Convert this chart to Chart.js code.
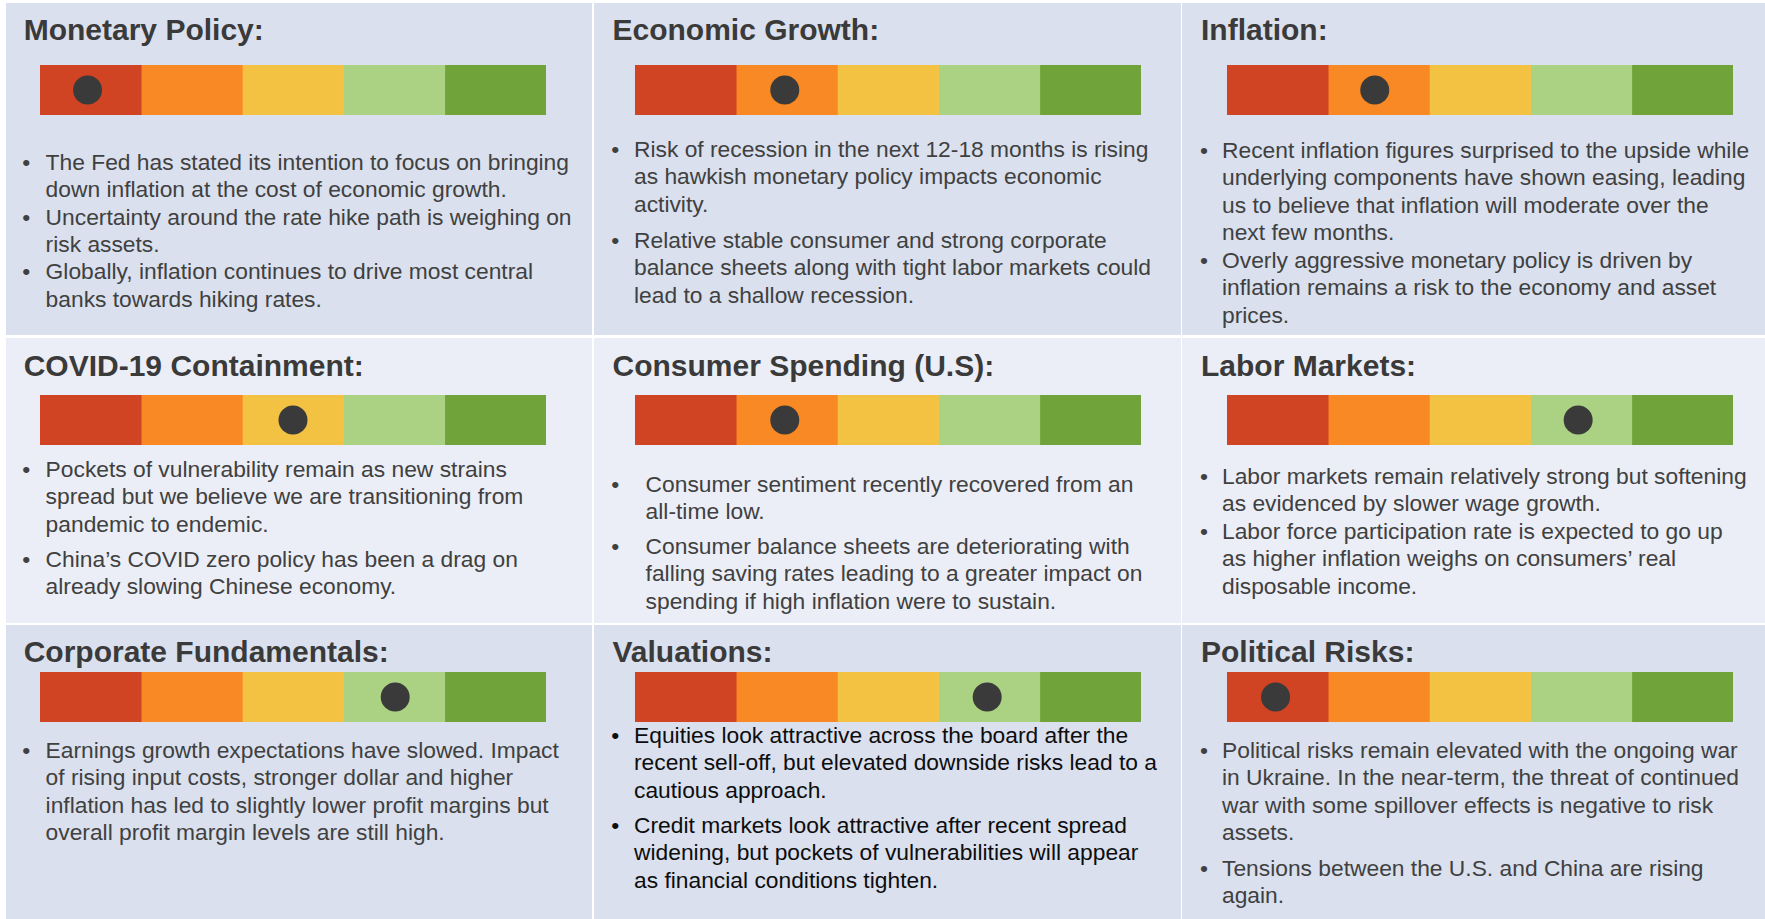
<!DOCTYPE html>
<html>
<head>
<meta charset="utf-8">
<script src="https://cdn.jsdelivr.net/npm/chart.js@4.4.0/dist/chart.umd.min.js"></script>
<style>
  html, body { margin: 0; padding: 0; background: #ffffff; }
  body { width: 1765px; height: 919px; position: relative; overflow: hidden;
         font-family: "Liberation Sans", Arial, sans-serif; }
  .panel { position: absolute; }
  .title { position: absolute; font-weight: bold; font-size: 30px; line-height: 30px;
           color: #3a3a3a; white-space: nowrap; }
  .bullet { position: absolute; font-size: 22.8px; line-height: 27.3px; color: #404040;
            white-space: nowrap; }
  .bullet .dot { position: absolute; top: 0; }
  canvas { position: absolute; }
</style>
</head>
<body>
<script>
// ---- data ----
const panelTitles = [
  'Monetary Policy:', 'Economic Growth:', 'Inflation:',
  'COVID-19 Containment:', 'Consumer Spending (U.S):', 'Labor Markets:',
  'Corporate Fundamentals:', 'Valuations:', 'Political Risks:'
];

// position of the dot on a 0..5 scale (one unit per colour band)
const ratings = [0.47, 1.48, 1.46, 2.50, 1.48, 3.47, 3.51, 3.48, 0.48];

const bandNames = ['Very negative', 'Negative', 'Neutral', 'Positive', 'Very positive'];
const bandColors = ['#d04424', '#f88925', '#f3c243', '#abd283', '#70a43a'];
const dotColor = '#3a3a3a';

const panelBullets = [
  [
    ['The Fed has stated its intention to focus on bringing', 'down inflation at the cost of economic growth.'],
    ['Uncertainty around the rate hike path is weighing on', 'risk assets.'],
    ['Globally, inflation continues to drive most central', 'banks towards hiking rates.']
  ],
  [
    ['Risk of recession in the next 12-18 months is rising', 'as hawkish monetary policy impacts economic', 'activity.'],
    ['Relative stable consumer and strong corporate', 'balance sheets along with tight labor markets could', 'lead to a shallow recession.']
  ],
  [
    ['Recent inflation figures surprised to the upside while', 'underlying components have shown easing, leading', 'us to believe that inflation will moderate over the', 'next few months.'],
    ['Overly aggressive monetary policy is driven by', 'inflation remains a risk to the economy and asset', 'prices.']
  ],
  [
    ['Pockets of vulnerability remain as new strains', 'spread but we believe we are transitioning from', 'pandemic to endemic.'],
    ['China\u2019s COVID zero policy has been a drag on', 'already slowing Chinese economy.']
  ],
  [
    ['Consumer sentiment recently recovered from an', 'all-time low.'],
    ['Consumer balance sheets are deteriorating with', 'falling saving rates leading to a greater impact on', 'spending if high inflation were to sustain.']
  ],
  [
    ['Labor markets remain relatively strong but softening', 'as evidenced by slower wage growth.'],
    ['Labor force participation rate is expected to go up', 'as higher inflation weighs on consumers\u2019 real', 'disposable income.']
  ],
  [
    ['Earnings growth expectations have slowed. Impact', 'of rising input costs, stronger dollar and higher', 'inflation has led to slightly lower profit margins but', 'overall profit margin levels are still high.']
  ],
  [
    ['Equities look attractive across the board after the', 'recent sell-off, but elevated downside risks lead to a', 'cautious approach.'],
    ['Credit markets look attractive after recent spread', 'widening, but pockets of vulnerabilities will appear', 'as financial conditions tighten.']
  ],
  [
    ['Political risks remain elevated with the ongoing war', 'in Ukraine. In the near-term, the threat of continued', 'war with some spillover effects is negative to risk', 'assets.'],
    ['Tensions between the U.S. and China are rising', 'again.']
  ]
];

// ---- layout ----
const cols = [
  { x: 6, w: 586, title: 23.7, bar: 40.2, dot: 22.3, text: 45.6 },
  { x: 594, w: 587, title: 612.5, bar: 635, dot: 611.2, text: 634 },
  { x: 1182, w: 583, title: 1201, bar: 1227, dot: 1200, text: 1222 }
];
const rows = [
  { y: 3, h: 332, titleBase: 40, bar: 65, bg: '#dae0ee' },
  { y: 337.5, h: 285, titleBase: 376, bar: 395, bg: '#ebeef6' },
  { y: 625, h: 294, titleBase: 662, bar: 672, bg: '#dae0ee' }
];
// first-line baselines of each bullet
const bulletBase = [
  [170.7, 225.3, 280], [157.7, 248.7], [158.5, 268.5],
  [477.7, 567.7], [492.7, 554.7], [484.7, 539.7],
  [758.7], [743.7, 833.7], [758.7, 876.7]
];
const barW = 506, barH = 50;

function baseOffset(f, lh) { return (lh - 1.117 * f) / 2 + 0.905 * f; }

panelTitles.forEach(function (title, k) {
  const c = cols[k % 3], r = rows[Math.floor(k / 3)];

  const bg = document.createElement('div');
  bg.className = 'panel';
  bg.style.cssText = `left:${c.x}px;top:${r.y}px;width:${c.w}px;height:${r.h}px;background:${r.bg}`;
  document.body.appendChild(bg);

  const t = document.createElement('div');
  t.className = 'title';
  t.textContent = title;
  t.style.left = c.title + 'px';
  t.style.top = (r.titleBase - baseOffset(30, 30)) + 'px';
  document.body.appendChild(t);

  // bullets
  let textX = c.text, dotX = c.dot;
  if (k === 4) { textX = 645.6; }
  panelBullets[k].forEach(function (lines, j) {
    const b = document.createElement('div');
    b.className = 'bullet';
    b.style.left = textX + 'px';
    b.style.top = (bulletBase[k][j] - baseOffset(22.8, 27.3)) + 'px';
    if (k === 7) b.style.color = '#0d0d0d';
    b.innerHTML = `<span class="dot" style="left:${dotX - textX}px">\u2022</span>` + lines.join('<br>');
    document.body.appendChild(b);
  });

  // rating bar
  const cv = document.createElement('canvas');
  cv.width = barW; cv.height = barH;
  cv.style.left = c.bar + 'px';
  cv.style.top = r.bar + 'px';
  cv.style.width = barW + 'px'; cv.style.height = barH + 'px';
  document.body.appendChild(cv);

  const datasets = bandColors.map(function (col, i) {
    return {
      label: bandNames[i], data: [1], backgroundColor: col, borderWidth: 0,
      barPercentage: 1, categoryPercentage: 1, order: 1
    };
  });
  datasets.push({
    type: 'line', label: 'Current', data: [ratings[k]], showLine: false,
    pointRadius: 14.5, pointHoverRadius: 14.5, pointBackgroundColor: dotColor,
    pointBorderWidth: 0, order: 0, clip: false
  });

  new Chart(cv, {
    type: 'bar',
    data: { labels: [title], datasets: datasets },
    options: {
      indexAxis: 'y',
      responsive: false,
      animation: false,
      devicePixelRatio: 1,
      layout: { padding: 0, autoPadding: false },
      plugins: { legend: { display: false }, tooltip: { enabled: false } },
      scales: {
        x: { stacked: true, min: 0, max: 5, display: false },
        y: { stacked: true, display: false }
      }
    }
  });
});
</script>
</body>
</html>
